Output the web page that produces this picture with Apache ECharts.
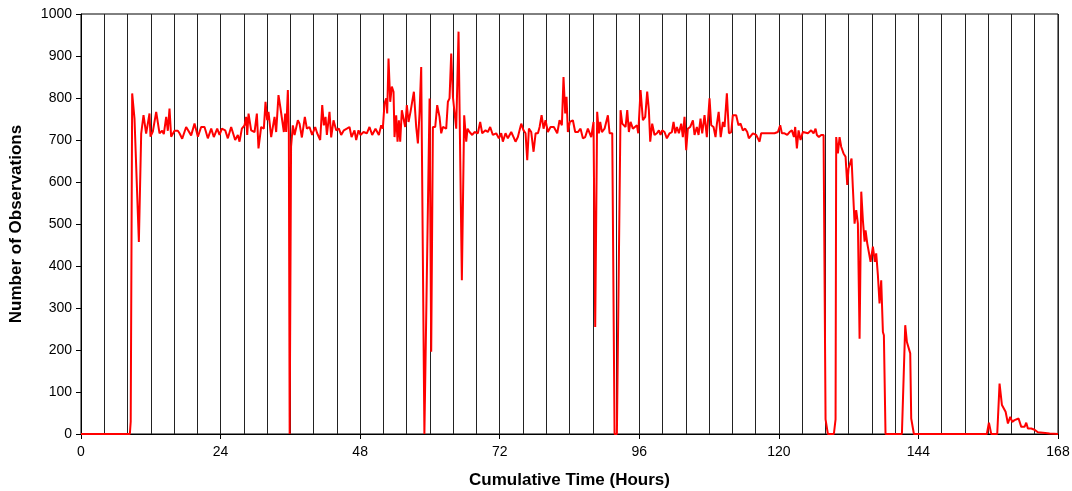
<!DOCTYPE html>
<html>
<head>
<meta charset="utf-8">
<script src="https://cdn.jsdelivr.net/npm/echarts@6/dist/echarts.min.js"></script>
<style>
html,body{margin:0;padding:0;background:#fff;}
#chart{width:1072px;height:491px;}
</style>
</head>
<body>
<div id="chart"></div>
<script>
// Cumulative time (hours) and number of observations
var hours = [
0,8.4,8.55,8.8,9.2,9.49,9.95,10.35,10.75,11.2,11.78,11.95,12.35,12.93,13.5,13.96,14.24,14.65,14.93,15.22,15.5,15.79,16.08,16.65,16.94,17.4,18.08,18.94,19.52,20.1,20.66,21.24,21.81,
22.39,22.84,23.42,23.82,24.22,24.8,25.25,25.82,26.51,26.97,27.26,27.66,28.12,28.4,28.58,28.81,29.26,29.84,30.24,30.52,30.98,31.44,31.73,32.01,32.24,32.7,33.28,33.56,33.96,34.31,34.54,34.88,35.11,35.28,35.57,35.74,35.88,36.0,36.12,
36.43,36.72,37.29,37.58,37.98,38.49,38.84,39.29,39.75,40.27,40.61,41.13,41.48,41.76,42.05,42.28,42.73,43.02,43.42,43.88,44.34,44.74,45.2,45.71,46.17,46.52,47.03,47.32,47.72,48.06,48.58,49.15,49.61,50.07,50.64,51.22,
51.62,51.9,52.19,52.48,52.65,52.88,53.17,53.45,53.74,53.91,54.2,54.43,54.66,54.89,55.17,55.46,55.75,56.03,56.32,56.66,56.95,57.24,57.64,57.93,58.21,58.5,59.05,59.36,59.94,60.22,60.51,60.91,61.25,61.65,61.94,62.23,62.51,62.8,63.09,63.37,63.66,63.95,64.52,64.92,65.49,
65.89,66.24,66.47,66.81,67.27,67.67,68.24,68.64,68.99,69.56,69.96,70.36,70.82,71.4,71.85,72.26,72.54,73.0,73.4,73.98,74.38,74.72,75.12,75.41,75.7,76.1,76.44,76.73,77.02,77.42,77.82,78.17,78.57,78.86,79.2,79.54,79.88,80.28,
80.74,81.31,81.89,82.29,82.69,82.97,83.26,83.49,83.72,84.06,84.58,84.98,85.44,85.9,86.3,86.7,87.16,87.5,87.73,88.13,88.42,88.76,89.05,89.28,89.57,90.03,90.31,90.6,90.89,91.35,91.75,92.15,92.78,93.07,93.35,93.64,93.93,94.21,94.5,94.9,
95.19,95.59,95.82,96.22,96.62,97.02,97.36,97.65,97.88,98.22,98.62,99.03,99.37,99.65,99.94,100.34,100.74,101.21,101.61,101.89,102.18,102.47,102.81,103.21,103.49,103.78,104.07,104.35,104.76,105.22,105.5,105.9,106.19,106.53,106.82,107.22,107.62,108.08,108.37,108.77,109.11,
109.35,109.65,110.0,110.38,110.66,111.06,111.41,111.81,112.09,112.66,113.06,113.41,113.81,114.21,114.56,114.84,115.53,116.1,116.68,116.96,117.53,118.4,119.26,119.83,120.23,120.52,120.98,121.44,121.84,122.24,122.59,122.81,123.1,123.39,123.73,124.13,
125.0,125.56,125.97,126.31,126.54,126.88,127.28,127.69,128.03,128.43,129.46,129.75,129.86,130.15,130.44,130.72,131.12,131.47,131.76,131.98,132.27,132.5,132.73,133.02,133.3,133.59,133.88,134.17,134.45,134.74,134.91,135.2,135.48,135.77,136.17,136.51,136.74,137.03,137.31,137.6,137.89,138.06,138.34,
141.16,141.73,142.02,142.59,142.76,143.22,
155.77,156.12,156.52,157.55,157.95,158.13,158.36,158.7,158.99,159.39,159.79,160.13,160.53,161.22,161.68,162.25,162.54,162.82,163.4,163.97,164.54,165.4,166.55,168
];
var counts = [
0,0,30,811,751,752,457,715,759,715,763,708,720,767,716,722,714,755,722,775,708,704,722,722,716,703,731,711,739,708,731,731,704,
727,707,727,712,727,723,704,731,700,712,696,727,735,755,712,763,723,719,763,680,731,727,791,747,767,707,755,719,807,775,771,719,763,719,819,716,0,0,684,
735,712,747,739,706,755,727,731,712,731,716,700,783,735,755,712,767,706,747,723,727,712,723,727,731,707,723,700,723,712,719,716,731,712,727,712,
735,727,787,799,763,894,791,827,815,707,759,696,747,696,771,771,731,783,743,767,767,815,731,692,763,874,0,0,799,196,731,731,783,755,716,731,735,727,791,799,906,803,727,958,366,
759,696,727,719,712,719,716,743,716,723,719,731,712,716,704,716,696,716,704,719,707,696,707,704,739,723,716,652,727,719,672,716,716,731,759,727,747,719,
731,731,716,747,735,850,763,803,719,743,747,719,719,727,704,707,727,731,707,743,255,767,716,743,719,727,731,759,716,716,0,0,771,739,739,731,771,719,743,727,
727,735,716,819,747,755,815,771,696,739,712,716,723,712,723,719,704,716,719,743,716,731,716,739,707,755,676,727,731,747,712,731,712,751,716,759,707,799,735,731,707,
739,767,707,743,731,811,716,719,759,759,735,739,723,727,719,704,716,712,696,716,716,716,716,719,735,716,716,712,719,723,707,731,680,723,700,719,
716,723,716,727,712,707,712,712,35,0,0,35,707,668,707,684,668,660,593,632,632,656,585,501,533,501,227,577,509,458,485,454,458,410,446,410,430,378,311,366,243,235,0,
0,259,219,192,37,0,
0,27,0,0,120,120,69,66,53,25,41,29,33,37,17,17,27,13,13,10,4,3,1,0
];
var xTicks = [0, 24, 48, 72, 96, 120, 144, 168];
var yTicks = [0, 100, 200, 300, 400, 500, 600, 700, 800, 900, 1000];

var seriesData = hours.map(function (h, i) { return [h, counts[i]]; });

var chart = echarts.init(document.getElementById('chart'), null, {renderer: 'canvas'});
var FONT = '"Liberation Sans", Arial, sans-serif';
chart.setOption({
  animation: false,
  backgroundColor: '#ffffff',
  grid: {left: 81, right: 14, top: 14, bottom: 57, containLabel: false, outerBoundsMode: 'none',
    show: true, borderColor: '#000', borderWidth: 1, backgroundColor: 'transparent'},
  xAxis: {
    type: 'value', min: xTicks[0], max: xTicks[xTicks.length - 1], interval: 24,
    name: 'Cumulative Time (Hours)', nameLocation: 'middle', nameGap: 38,
    nameTextStyle: {fontFamily: FONT, fontWeight: 'bold', fontSize: 17, color: '#000'},
    axisLine: {show: true, lineStyle: {color: '#000', width: 1}},
    axisTick: {show: true, length: 5, lineStyle: {color: '#000'}},
    axisLabel: {fontFamily: FONT, fontSize: 14, color: '#000', margin: 11,
      formatter: function (v) { return String(v); }},
    splitLine: {show: true, lineStyle: {color: '#222', width: 1}},
    minorTick: {show: false, splitNumber: 6},
    minorSplitLine: {show: true, lineStyle: {color: '#222', width: 1}}
  },
  yAxis: {
    type: 'value', min: yTicks[0], max: yTicks[yTicks.length - 1], interval: 100,
    name: 'Number of Observations', nameLocation: 'middle', nameGap: 56,
    nameTextStyle: {fontFamily: FONT, fontWeight: 'bold', fontSize: 17, color: '#000'},
    axisLine: {show: true, lineStyle: {color: '#000', width: 1}},
    axisTick: {show: true, length: 5, lineStyle: {color: '#000'}},
    axisLabel: {fontFamily: FONT, fontSize: 14, color: '#000', margin: 9,
      formatter: function (v) { return String(v); }},
    splitLine: {show: false}
  },
  series: [{
    type: 'line', data: seriesData, showSymbol: false, symbol: 'none',
    lineStyle: {color: '#ff0000', width: 2}, smooth: false, z: 5
  }]
});
</script>
</body>
</html>
